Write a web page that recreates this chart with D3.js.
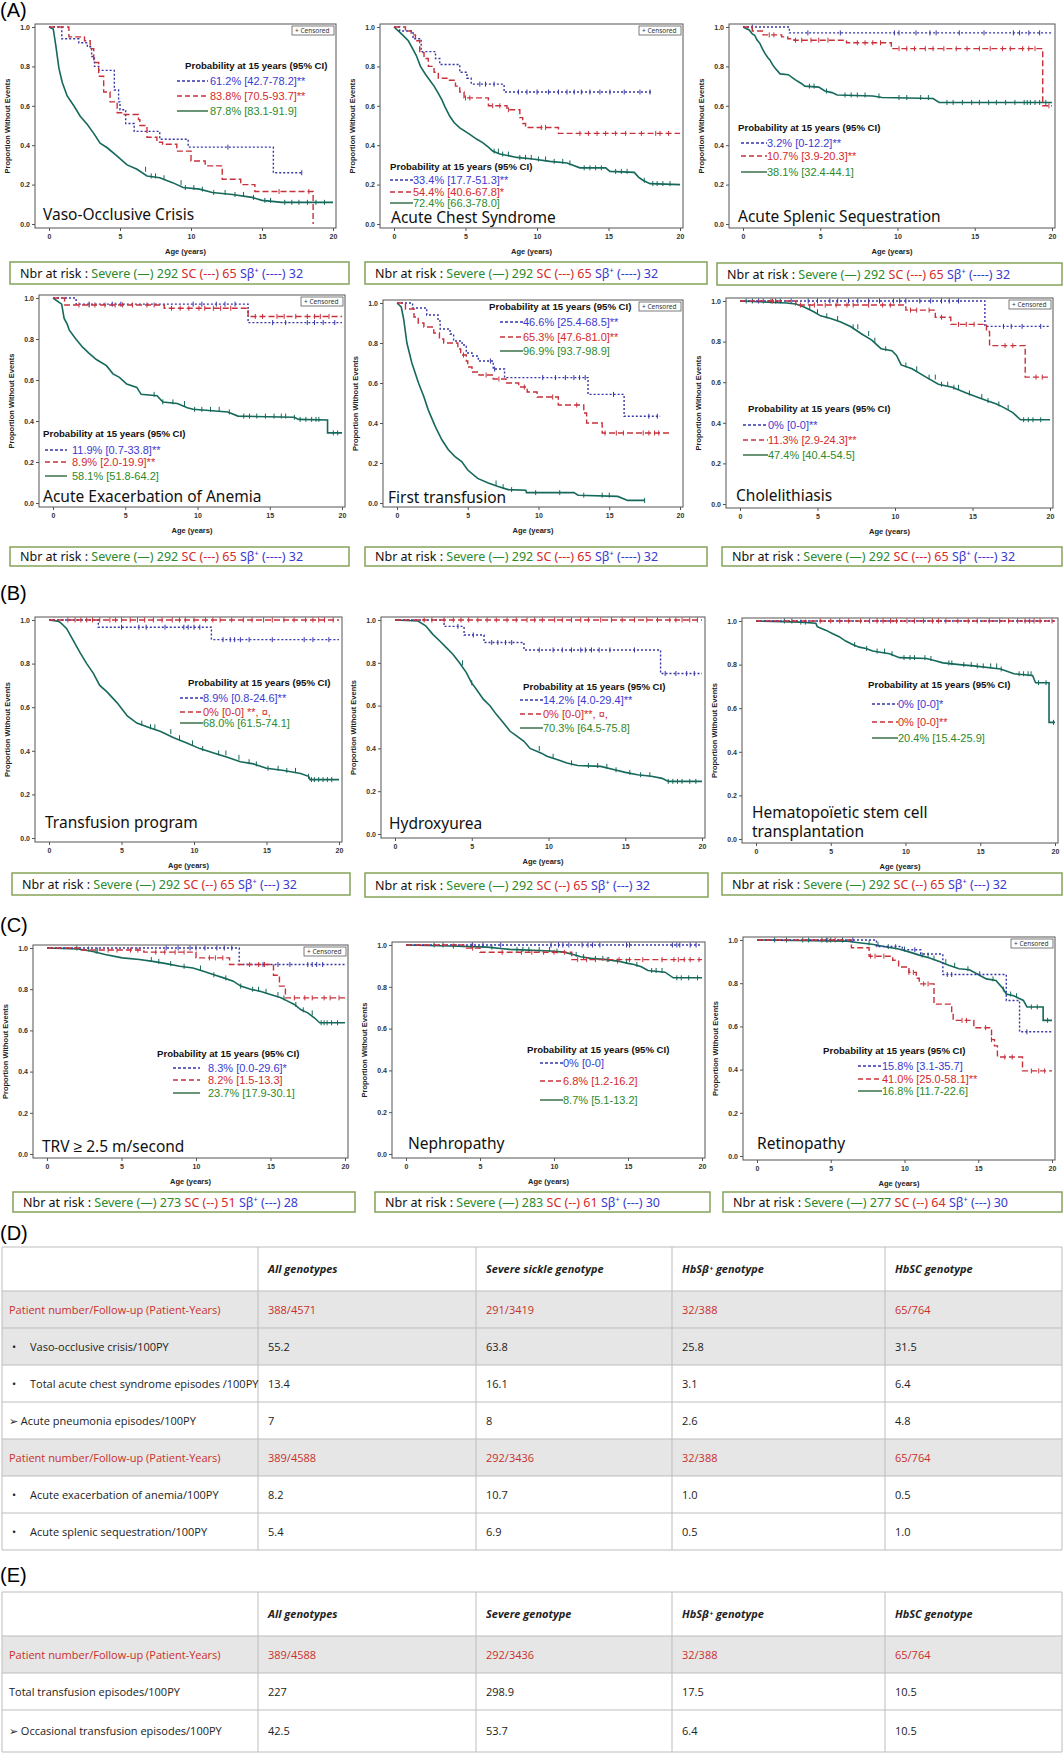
<!DOCTYPE html>
<html>
<head>
<meta charset="utf-8">
<script src="https://cdn.jsdelivr.net/npm/d3@7"></script>
<style>
body { margin: 0; background: #fff; }
svg text { font-family: 'Noto Sans', 'DejaVu Sans', sans-serif; }
.tick text { font-size: 7px; fill: #333; font-weight: bold; font-family: 'Liberation Sans', Arial, sans-serif; }
.tick line { stroke: #555; }
.axisLbl { font-size: 7.5px; font-weight: bold; fill: #222; font-family: 'Liberation Sans', Arial, sans-serif !important; }
.title { font-size: 15.5px; fill: #111; font-family: 'Comic Sans MS', 'Noto Sans', sans-serif; }
.prob { font-size: 9.6px; font-weight: bold; fill: #111; font-family: 'Liberation Sans', Arial, sans-serif !important; }
.legTxt { font-size: 11px; font-family: 'Liberation Sans', Arial, sans-serif !important; }
.risk { font-size: 12.5px; }
.tbl { font-size: 11px; font-family: 'Open Sans', sans-serif !important; }
.letter { font-size: 20px; font-family: 'Liberation Sans', Arial, sans-serif !important; }
</style>
</head>
<body>
<div id="fig"></div>
<script>
'use strict';

/*
Data : Kaplan-Meier curves [age, proportion without event], censored ages
 */

// Vaso-occlusive crisis
const vocSevere = [[0,1],[0.3,0.99],[0.47,0.91],[0.7,0.79],[0.93,0.72],[1.28,0.65],[1.75,0.6],[2.2,0.547],[2.7,0.505],[3.15,0.46],[3.6,0.41],[4.1,0.387],[4.8,0.345],[5.5,0.3],[6.2,0.278],[6.9,0.244],[7.8,0.235],[8.7,0.21],[9.45,0.185],[10.6,0.177],[11.5,0.16],[12.9,0.15],[14.3,0.135],[15.0,0.12],[16.4,0.11],[20,0.11]];
const vocSC = [[0,1],[1.4,0.95],[2.5,0.93],[2.9,0.89],[3.15,0.82],[3.5,0.75],[3.85,0.67],[4.3,0.62],[4.8,0.565],[5.2,0.556],[6.3,0.53],[6.4,0.5],[6.9,0.44],[7.6,0.415],[8.0,0.405],[9.0,0.37],[10.0,0.32],[11.0,0.295],[12.2,0.227],[13.5,0.2],[14.5,0.165],[18.6,0]];
const vocSb = [[0,1],[0.9,0.94],[2.1,0.92],[2.7,0.9],[3.0,0.85],[3.2,0.8],[3.5,0.78],[4.6,0.68],[4.9,0.62],[5.0,0.58],[5.4,0.51],[6.0,0.47],[7.8,0.43],[9.8,0.39],[15.8,0.26],[17.8,0.26]];
const vocSevereCens = [6.8,7.2,7.5,8.1,9.3,9.6,10.2,10.8,11.6,12.4,13.1,13.7,14.4,15.2,15.6,16.6,17.1,17.6,18.2,18.8,19.4];
const vocSCCens = [16.2,18.3];
const vocSbCens = [12.6,17.8];

// Acute chest syndrome
const acsSevere = [[0,1],[0.3,0.98],[0.6,0.96],[1.0,0.93],[1.3,0.89],[1.56,0.855],[1.85,0.8],[2.2,0.76],[2.5,0.73],[2.8,0.7],[3.1,0.663],[3.35,0.63],[3.55,0.597],[3.9,0.547],[4.2,0.515],[4.6,0.488],[5.3,0.455],[5.8,0.43],[6.2,0.413],[6.6,0.39],[6.9,0.37],[7.4,0.355],[8.6,0.338],[9.7,0.33],[10.9,0.318],[12.1,0.31],[13.0,0.285],[14.8,0.285],[15.1,0.267],[16.8,0.262],[17.1,0.238],[17.4,0.222],[17.9,0.205],[20,0.2]];
const acsSC = [[0,1],[0.8,0.98],[1.2,0.96],[1.5,0.93],[1.8,0.87],[2.1,0.84],[2.4,0.8],[2.8,0.77],[3.1,0.74],[3.7,0.73],[4.3,0.7],[4.6,0.67],[4.9,0.64],[6.6,0.6],[7.9,0.58],[8.8,0.54],[9.0,0.51],[9.2,0.49],[11.5,0.46],[20,0.46]];
const acsSb = [[0,1],[0.4,0.98],[1.33,0.94],[1.9,0.875],[2.9,0.84],[3.2,0.81],[4.6,0.77],[5.1,0.74],[5.4,0.71],[7.7,0.67],[18,0.67]];
const acsSevereCens = [7.0,7.3,7.6,8.0,8.8,9.2,9.6,10.1,10.6,11.2,11.8,12.3,13.3,13.7,14.1,14.5,15.5,15.9,16.3,17.5,18.1,18.4,18.8,19.3];
const acsSCCens = [5.0,5.3,6.9,7.4,8.0,10.3,10.6,13.0,13.6,14.2,14.8,15.5,16.2,17.3,18.3,18.6,19.2];
const acsSbCens = [6.0,6.4,7.0,8.7,9.3,10.0,10.8,11.5,12.1,12.6,13.1,13.7,14.4,15.1,16.1,17.2,17.9];

// Acute splenic sequestration
const assSevere = [[0,1],[0.4,0.985],[0.6,0.965],[0.76,0.958],[0.9,0.935],[1.09,0.917],[1.25,0.89],[1.41,0.867],[1.6,0.845],[1.74,0.833],[1.9,0.81],[2.07,0.792],[2.4,0.762],[2.93,0.758],[3.37,0.733],[3.8,0.712],[4.0,0.7],[4.9,0.695],[5.3,0.675],[5.76,0.667],[6.1,0.655],[8.4,0.65],[9.0,0.642],[12.3,0.637],[12.7,0.617],[20,0.617]];
const assSC = [[0,1],[0.6,0.98],[1.3,0.96],[2.5,0.95],[2.9,0.94],[3.3,0.933],[6.7,0.92],[9.6,0.89],[19.4,0.6],[20,0.6]];
const assSb = [[0,1],[3.0,0.97],[20,0.97]];
const assSevereCens = [4.3,4.6,5.4,6.6,7.0,7.4,7.9,8.8,10.1,10.6,11.5,12.0,13.2,13.6,14.2,14.8,15.3,15.9,16.4,17.0,17.6,18.2,18.4,18.6,18.9,19.2,19.6];
const assSCCens = [1.7,2.0,3.4,3.8,4.4,4.9,5.5,7.4,7.9,8.4,8.9,10.1,10.6,11.1,11.8,12.3,13.0,13.8,14.5,15.3,16.0,16.8,17.3,18.1,18.5,18.9,19.8];
const assSbCens = [0.6,4.2,6.3,9.8,10.1,11.2,12.1,12.5,14.0,15.6,17.5,17.9,18.5,19.2];

// Acute exacerbation of anemia
const aeaSevere = [[0,1],[0.6,0.97],[0.77,0.9],[1.0,0.87],[1.12,0.844],[1.58,0.8],[2.05,0.76],[2.5,0.73],[3.0,0.7],[3.7,0.67],[4.15,0.63],[4.6,0.613],[5.1,0.58],[5.8,0.564],[6.1,0.53],[7.2,0.523],[7.6,0.493],[8.6,0.485],[9.3,0.465],[9.7,0.457],[12.1,0.444],[12.8,0.424],[16.7,0.418],[17.0,0.408],[19.0,0.405],[19.0,0.342],[20,0.342]];
const aeaSC = [[0,1],[0.8,0.966],[7.7,0.95],[13.5,0.91],[20,0.91]];
const aeaSb = [[0,1],[1.6,0.97],[13.5,0.88],[20,0.88]];
const aeaSevereCens = [7.0,7.6,8.3,9.1,9.8,10.3,10.9,11.5,12.2,13.2,13.6,14.1,14.7,15.3,15.8,16.1,16.7,17.1,17.5,17.9,18.2,18.4,19.4,19.7];
const aeaSCCens = [1.8,2.5,2.9,3.6,4.3,4.8,5.5,6.5,7.0,8.2,8.8,9.4,10.1,10.5,11.1,11.6,12.3,14.0,14.5,15.5,16.0,16.8,17.6,18.1,18.5,19.1];
const aeaSbCens = [2.5,4.1,4.7,9.7,10.3,11.3,11.9,12.6,15.2,16.1,17.6,18.1,18.7,19.5];

// First transfusion
const ftSevere = [[0,1],[0.3,0.98],[0.47,0.92],[0.7,0.8],[1.05,0.7],[1.52,0.6],[1.88,0.535],[2.2,0.467],[2.7,0.383],[3.17,0.316],[3.63,0.266],[4.1,0.232],[4.57,0.207],[5.0,0.165],[5.7,0.123],[6.45,0.1],[7.15,0.082],[7.85,0.067],[9.1,0.064],[9.15,0.052],[12.5,0.052],[12.8,0.039],[15.6,0.033],[16.3,0.013],[17.5,0.013]];
const ftSC = [[0,1],[0.6,0.97],[1.2,0.93],[1.5,0.9],[1.9,0.88],[2.6,0.85],[3.0,0.82],[3.3,0.8],[4.3,0.77],[4.5,0.74],[4.9,0.71],[5.0,0.68],[5.3,0.655],[5.8,0.64],[6.8,0.62],[7.7,0.6],[8.6,0.58],[9.2,0.555],[9.9,0.53],[11.4,0.49],[13.2,0.45],[13.4,0.4],[14.5,0.35],[19.3,0.35]];
const ftSb = [[0,1],[1.1,0.975],[2.1,0.94],[2.9,0.91],[3.05,0.87],[3.75,0.845],[4.0,0.81],[4.6,0.79],[4.9,0.75],[5.3,0.735],[5.75,0.71],[6.8,0.67],[7.6,0.627],[13.5,0.543],[16.05,0.434],[18.6,0.434]];
const ftSevereCens = [7.0,7.5,8.1,9.8,11.5,13.2,14.5,15.0,17.5];
const ftSCCens = [4.7,6.3,7.2,9.0,11.0,12.7,14.7,15.5,16.0,17.4,17.8,18.2,18.5];
const ftSbCens = [6.6,6.9,10.3,11.2,11.9,12.5,12.9,13.3,15.3,17.8,18.4];

// Cholelithiasis
const choSevere = [[0,1],[3.0,0.99],[3.6,0.985],[4.1,0.972],[4.76,0.947],[5.2,0.927],[5.85,0.914],[6.5,0.897],[7.16,0.873],[7.8,0.84],[8.5,0.807],[9.1,0.765],[9.8,0.755],[10.1,0.732],[10.4,0.685],[11.1,0.666],[12.0,0.625],[12.8,0.59],[13.7,0.575],[14.6,0.547],[15.2,0.53],[15.9,0.51],[16.55,0.493],[17.0,0.476],[17.6,0.45],[18.1,0.415],[20,0.415]];
const choSC = [[0,1],[3.6,0.98],[10.7,0.955],[12.6,0.92],[13.6,0.885],[15.9,0.85],[16.1,0.78],[18.4,0.625],[20,0.625]];
const choSb = [[0,1],[15.8,0.875],[20,0.875]];
const choSevereCens = [0.4,0.8,1.5,2.0,2.6,4.5,5.0,5.6,6.3,7.3,7.6,8.3,8.7,9.4,10.7,11.4,12.2,12.6,13.0,13.4,13.8,14.1,14.8,15.6,16.0,16.7,17.3,18.3,18.6,18.9,19.4];
const choSCCens = [2.1,3.9,4.8,5.5,6.2,6.9,7.3,8.3,9.2,9.7,11.0,11.4,12.2,13.0,14.1,14.6,15.1,17.1,17.6,19.1,19.5];
const choSbCens = [1.2,2.3,3.3,4.4,5.0,5.8,6.3,7.0,7.6,8.3,9.0,9.9,10.3,10.7,11.6,12.3,13.0,13.5,14.1,17.0,17.5,18.2,19.4];

// Transfusion program
const tpSevere = [[0,1],[0.6,0.995],[0.76,0.99],[1.0,0.975],[1.22,0.96],[1.68,0.905],[2.14,0.85],[2.6,0.8],[3.06,0.755],[3.5,0.7],[4.0,0.67],[4.7,0.62],[5.4,0.56],[6.06,0.527],[6.75,0.51],[7.7,0.488],[8.6,0.46],[9.5,0.436],[10.4,0.41],[11.36,0.39],[12.3,0.37],[13.2,0.35],[14.1,0.34],[15.0,0.32],[16.2,0.31],[17.35,0.296],[17.9,0.283],[18.0,0.268],[20,0.268]];
const tpSC = [[0,1],[20,1]];
const tpSb = [[0,1],[3.4,0.967],[11.2,0.91],[20,0.91]];
const tpSevereCens = [6.4,7.0,7.3,8.4,9.0,9.9,10.6,11.7,12.2,13.1,13.8,14.3,15.1,15.8,16.4,17.0,17.9,18.1,18.3,18.6,18.9,19.2,19.5];
const tpSCCens = [1.3,1.8,2.2,2.6,3.0,3.5,4.2,4.6,5.0,5.6,6.1,6.6,7.2,7.8,8.5,9.0,9.4,10.0,10.8,11.3,11.8,12.6,13.4,14.0,14.8,15.4,16.2,16.9,17.7,18.2,18.6,19.0,19.6];
const tpSbCens = [5.0,6.2,6.7,8.0,9.3,9.6,10.0,10.4,12.0,12.5,12.8,13.2,13.8,15.4,17.6,18.2,19.3];

// Hydroxyurea
const huSevere = [[0,1],[1.5,0.995],[2.0,0.973],[2.45,0.934],[2.9,0.903],[3.33,0.872],[3.77,0.84],[4.2,0.8],[4.65,0.754],[4.98,0.707],[5.3,0.676],[5.75,0.63],[6.2,0.598],[6.6,0.559],[7.06,0.52],[7.5,0.48],[7.94,0.457],[8.4,0.433],[8.8,0.4],[9.5,0.379],[9.9,0.363],[10.6,0.347],[11.2,0.332],[11.9,0.32],[13.4,0.316],[14.3,0.3],[15.0,0.288],[15.8,0.277],[16.7,0.27],[17.4,0.26],[17.8,0.246],[20,0.246]];
const huSC = [[0,1],[20,1]];
const huSb = [[0,1],[3.2,0.97],[4.5,0.93],[5.8,0.895],[8.4,0.86],[17.3,0.75],[20,0.75]];
const huSevereCens = [4.4,5.0,9.4,10.3,11.5,12.6,13.2,13.8,14.4,15.3,16.0,16.6,17.8,18.1,18.4,18.7,19.2,19.6];
const huSCCens = [1.9,2.4,3.2,3.8,4.3,4.8,5.4,6.0,6.6,7.3,7.9,8.6,9.1,9.6,10.4,10.9,11.5,12.1,12.6,13.4,14.1,14.8,15.6,16.4,17.1,17.9,18.3,18.7,19.2,19.7];
const huSbCens = [4.1,5.1,6.3,6.7,7.2,7.6,9.4,10.3,10.9,11.5,12.1,12.4,12.8,13.3,14.0,15.6,17.6,18.3,19.0,19.5];

// Hematopoietic stem cell transplantation
const hscSevere = [[0,1],[3.0,0.995],[4.0,0.99],[4.1,0.974],[4.66,0.958],[5.1,0.943],[5.56,0.928],[6.0,0.908],[6.46,0.892],[6.9,0.88],[7.36,0.874],[7.8,0.862],[8.93,0.85],[9.6,0.832],[11.4,0.828],[11.86,0.82],[12.5,0.808],[13.6,0.8],[14.55,0.794],[16.36,0.78],[17.25,0.758],[18.5,0.75],[18.7,0.717],[19.6,0.717],[19.6,0.535],[20,0.535]];
const hscSC = [[0,1],[20,1]];
const hscSb = [[0,1],[20,1]];
const hscSevereCens = [1.9,2.4,3.0,3.3,6.6,7.4,8.1,8.6,9.1,9.9,10.3,10.6,11.3,11.7,12.9,13.1,13.9,14.4,14.8,15.2,15.7,16.1,16.4,17.6,17.9,18.2,18.4,18.9,19.4,19.9];
const hscSCCens = [4.3,5.0,5.6,6.2,7.0,7.6,8.1,8.5,9.0,9.4,10.1,10.6,11.2,11.8,12.2,12.7,13.5,14.2,14.8,15.6,16.3,16.9,17.5,18.0,18.3,18.6,19.0,19.8];
const hscSbCens = [];

// TRV >= 2.5 m/s
const trvSevere = [[0,1],[2.1,0.995],[3.0,0.984],[3.9,0.968],[5.05,0.952],[6.2,0.944],[7.1,0.935],[8.0,0.924],[8.9,0.911],[9.8,0.903],[10.5,0.887],[11.2,0.87],[11.85,0.855],[12.5,0.839],[13.0,0.815],[13.66,0.8],[14.3,0.79],[15.0,0.774],[15.7,0.758],[16.15,0.742],[16.6,0.726],[17.05,0.7],[17.5,0.685],[17.96,0.66],[18.3,0.637],[20,0.637]];
const trvSC = [[0,1],[2.3,0.99],[6.5,0.98],[10.0,0.952],[12.25,0.92],[15.2,0.868],[15.6,0.815],[16.0,0.758],[20,0.758]];
const trvSb = [[0,1],[12.9,0.92],[20,0.92]];
const trvSevereCens = [2.0,2.8,3.3,7.0,7.5,8.3,9.2,10.3,11.2,12.0,13.0,13.8,14.2,14.7,15.5,15.9,16.7,17.2,17.8,18.4,18.6,18.8,19.1,19.5];
const trvSCCens = [3.4,4.1,4.7,5.6,6.1,7.3,7.9,8.6,9.2,10.9,11.3,11.8,13.6,14.2,14.6,16.6,17.3,17.8,18.6,19.0,19.6];
const trvSbCens = [8.0,8.8,9.6,10.0,10.6,11.4,11.9,12.4,14.5,15.5,16.3,17.5,17.8,18.1,18.5];

// Nephropathy
const nepSevere = [[0,1],[3.0,0.995],[5.5,0.99],[6.56,0.982],[7.0,0.979],[9.75,0.971],[10.66,0.966],[11.3,0.955],[11.8,0.944],[12.5,0.936],[13.4,0.931],[14.3,0.923],[15.0,0.912],[15.4,0.907],[15.9,0.896],[16.35,0.878],[17.5,0.87],[18.06,0.843],[20,0.843]];
const nepSC = [[0,1],[3.9,0.985],[5.0,0.965],[11.2,0.93],[20,0.93]];
const nepSb = [[0,1],[20,1]];
const nepSevereCens = [1.9,2.5,3.2,4.4,5.8,7.5,7.9,8.3,9.0,9.7,10.2,11.5,12.0,12.8,13.3,13.7,14.3,14.9,15.6,16.6,16.9,17.3,18.3,18.6,19.1,19.7];
const nepSCCens = [4.5,6.5,7.8,8.5,9.3,10.0,10.7,11.6,12.2,12.8,13.6,14.4,15.1,16.0,17.3,18.1,18.4,18.8,19.2,19.8];
const nepSbCens = [4.5,5.2,6.4,9.8,10.3,10.6,11.0,11.9,12.3,12.6,13.1,14.9,15.1,18.0,18.3,18.5,19.2,19.6];

// Retinopathy
const retSevere = [[0,1],[6.0,0.995],[6.9,0.987],[7.8,0.98],[8.7,0.969],[9.6,0.958],[10.3,0.945],[11.0,0.93],[11.7,0.917],[12.36,0.9],[13.0,0.883],[13.7,0.867],[14.4,0.862],[14.9,0.844],[15.55,0.82],[16.2,0.813],[16.7,0.773],[16.9,0.75],[17.4,0.742],[18.06,0.72],[18.3,0.69],[19.4,0.69],[19.4,0.628],[20,0.628]];
const retSC = [[0,1],[6.4,0.964],[7.6,0.925],[9.2,0.906],[9.6,0.875],[10.3,0.85],[10.8,0.823],[11.0,0.797],[12.0,0.703],[13.2,0.664],[13.3,0.628],[14.7,0.594],[15.9,0.539],[16.1,0.51],[16.3,0.458],[18.0,0.394],[20,0.394]];
const retSb = [[0,1],[8.1,0.97],[9.85,0.955],[11.1,0.935],[12.6,0.84],[16.9,0.72],[17.8,0.575],[20,0.575]];
const retSevereCens = [1.2,2.0,3.1,3.5,4.4,4.7,5.0,5.8,7.6,8.2,8.9,9.4,10.0,11.2,11.6,12.0,12.8,13.4,14.3,15.1,16.0,16.7,17.2,17.6,18.6,19.0,19.7];
const retSCCens = [4.8,5.3,7.7,8.0,8.6,10.3,10.6,11.3,11.6,13.9,14.2,15.5,15.9,16.8,17.3,18.6,19.1,19.5];
const retSbCens = [6.5,10.7,12.9,13.2,18.3];

// Probability at 15 years (95% CI) : Sb, SC, Severe
const probSb = ['61.2% [42.7-78.2]**','33.4% [17.7-51.3]**','3.2% [0-12.2]**','11.9% [0.7-33.8]**','46.6% [25.4-68.5]**','0% [0-0]**','8.9% [0.8-24.6]**','14.2% [4.0-29.4]**','0% [0-0]*','8.3% [0.0-29.6]*','0% [0-0]','15.8% [3.1-35.7]'];
const probSC = ['83.8% [70.5-93.7]**','54.4% [40.6-67.8]*','10.7% [3.9-20.3]**','8.9% [2.0-19.9]**','65.3% [47.6-81.0]**','11.3% [2.9-24.3]**','0% [0-0] **, ¤,','0% [0-0]**, ¤,','0% [0-0]**','8.2% [1.5-13.3]','6.8% [1.2-16.2]','41.0% [25.0-58.1]**'];
const probSevere = ['87.8% [83.1-91.9]','72.4% [66.3-78.0]','38.1% [32.4-44.1]','58.1% [51.8-64.2]','96.9% [93.7-98.9]','47.4% [40.4-54.5]','68.0% [61.5-74.1]','70.3% [64.5-75.8]','20.4% [15.4-25.9]','23.7% [17.9-30.1]','8.7% [5.1-13.2]','16.8% [11.7-22.6]'];

// Numbers at risk
const riskSevere = [292,292,292,292,292,292,292,292,292,273,283,277];
const riskSC = [65,65,65,65,65,65,65,65,65,51,61,64];
const riskSb = [32,32,32,32,32,32,32,32,32,28,30,30];

// Axis ticks
const xTicks = [0,5,10,15,20];
const yTicks = [0,0.2,0.4,0.6,0.8,1.0];

// Table D
const tabDHead = ['All genotypes','Severe sickle genotype','HbSβ⁺ genotype','HbSC genotype'];
const tabDLabels = ['Patient number/Follow-up (Patient-Years)','Vaso-occlusive crisis/100PY','Total acute chest syndrome episodes /100PY','Acute pneumonia episodes/100PY','Patient number/Follow-up (Patient-Years)','Acute exacerbation of anemia/100PY','Acute splenic sequestration/100PY'];
const tabDMarks = ['', '•', '•', '➢', '', '•', '•'];
const tabDAll = ['388/4571','55.2','13.4','7','389/4588','8.2','5.4'];
const tabDSevere = ['291/3419','63.8','16.1','8','292/3436','10.7','6.9'];
const tabDSb = ['32/388','25.8','3.1','2.6','32/388','1.0','0.5'];
const tabDSC = ['65/764','31.5','6.4','4.8','65/764','0.5','1.0'];

// Table E
const tabEHead = ['All genotypes','Severe genotype','HbSβ⁺ genotype','HbSC genotype'];
const tabELabels = ['Patient number/Follow-up (Patient-Years)','Total transfusion episodes/100PY','Occasional transfusion episodes/100PY'];
const tabEMarks = ['', '', '➢'];
const tabEAll = ['389/4588','227','42.5'];
const tabESevere = ['292/3436','298.9','53.7'];
const tabESb = ['32/388','17.5','6.4'];
const tabESC = ['65/764','10.5','10.5'];

/*
Styles
 */
const COL = {
    severe: '#15695b', severeTxt: '#2c8a2c', severeLeg: '#1d5a2c',
    sc: '#c8303a', scTxt: '#d42a2a',
    sb: '#3636a8', sbTxt: '#3a3ad0',
    frame: '#555', risk: '#84a35a', red: '#c9302c'
};

/*
KM panel
 */
class KMPanel {

    constructor(_svg, _cfg, _i) {
        this.svg = _svg;
        this.cfg = _cfg;
        this.i = _i;
        this.init();
    }

    init() {
        const vis = this;
        const [L, T, R, B] = vis.cfg.frame;
        vis.x = d3.scaleLinear().domain([0, 20]).range([L + 14, R - 3]);
        vis.y = d3.scaleLinear().domain([0, 1]).range([B - 4, T + 3]);
        vis.g = vis.svg.append('g').attr('class', 'panel ' + vis.cfg.key);
        vis.render();
    }

    // value of a curve at age t (last point at or before t)
    valueAt(arr, t) {
        let s = arr[0][1];
        arr.forEach(p => { if (p[0] <= t) s = p[1]; });
        return s;
    }

    render() {
        const vis = this;
        const c = vis.cfg;
        const [L, T, R, B] = c.frame;

        // Frame
        vis.g.append('rect')
            .attr('x', L).attr('y', T).attr('width', R - L).attr('height', B - T)
            .attr('fill', '#fff').attr('stroke', COL.frame).attr('stroke-width', 1);

        // Axes
        const gx = vis.g.append('g')
            .attr('transform', `translate(0,${B})`)
            .call(d3.axisBottom(vis.x).tickValues(xTicks).tickSize(3).tickPadding(3));
        gx.select('.domain').remove();
        const gy = vis.g.append('g')
            .attr('transform', `translate(${L},0)`)
            .call(d3.axisLeft(vis.y).tickValues(yTicks).tickFormat(d3.format('.1f')).tickSize(3).tickPadding(2));
        gy.select('.domain').remove();

        vis.g.append('text').attr('class', 'axisLbl')
            .attr('x', (L + R) / 2).attr('y', B + 26)
            .attr('text-anchor', 'middle').text('Age (years)');
        vis.g.append('text').attr('class', 'axisLbl')
            .attr('transform', `translate(${L - 25},${(T + B) / 2}) rotate(-90)`)
            .attr('text-anchor', 'middle').text('Proportion Without Events');

        // Curves : severe (many small steps) drawn as a polyline, the small groups as steps
        const lineSevere = d3.line().x(d => vis.x(d[0])).y(d => vis.y(d[1]));
        const lineStep = d3.line().x(d => vis.x(d[0])).y(d => vis.y(d[1])).curve(d3.curveStepAfter);
        const series = [
            {data: c.severe, cens: c.severeCens, color: COL.severe, dash: null, w: 1.6, maker: lineSevere},
            {data: c.sb, cens: c.sbCens, color: COL.sb, dash: '2,2', w: 1.4, maker: lineStep},
            {data: c.sc, cens: c.scCens, color: COL.sc, dash: '6,3', w: 1.4, maker: lineStep}
        ];
        series.forEach(s => {
            vis.g.append('path')
                .attr('d', s.maker(s.data))
                .attr('fill', 'none')
                .attr('stroke', s.color)
                .attr('stroke-width', s.w)
                .attr('stroke-dasharray', s.dash);
            vis.g.selectAll(null)
                .data(s.cens)
                .join('line')
                .attr('x1', d => vis.x(d)).attr('x2', d => vis.x(d))
                .attr('y1', d => vis.y(vis.valueAt(s.data, d)) - 2.5)
                .attr('y2', d => vis.y(vis.valueAt(s.data, d)) + 2.5)
                .attr('stroke', s.color).attr('stroke-width', 1);
        });

        // Censored legend
        if (c.censBox) {
            const bx = R - 44, by = T + 2;
            vis.g.append('rect').attr('x', bx).attr('y', by).attr('width', 42).attr('height', 9)
                .attr('fill', '#fff').attr('stroke', '#444').attr('stroke-width', 0.7);
            vis.g.append('text').attr('x', bx + 3).attr('y', by + 7)
                .attr('font-size', 6.5).attr('fill', '#333')
                .attr('font-family', 'Liberation Sans, Arial, sans-serif')
                .text('+ Censored');
        }

        // Probability legend
        vis.g.append('text').attr('class', 'prob')
            .attr('x', c.prob[0]).attr('y', c.prob[1])
            .text('Probability at 15 years (95% CI)');
        const legRows = [
            {txt: probSb[vis.i], col: COL.sb, txtCol: COL.sbTxt, dash: '3,2'},
            {txt: probSC[vis.i], col: COL.sc, txtCol: COL.scTxt, dash: '5,3'},
            {txt: probSevere[vis.i], col: COL.severeLeg, txtCol: COL.severeTxt, dash: null}
        ];
        legRows.forEach((r, k) => {
            const yy = c.leg.ys[k];
            vis.g.append('line')
                .attr('x1', c.leg.x1).attr('x2', c.leg.x2)
                .attr('y1', yy - 4).attr('y2', yy - 4)
                .attr('stroke', r.col).attr('stroke-width', 1.3)
                .attr('stroke-dasharray', r.dash);
            vis.g.append('text').attr('class', 'legTxt')
                .attr('x', c.leg.tx).attr('y', yy).attr('fill', r.txtCol)
                .text(r.txt);
        });

        // Title
        c.title.forEach((s, k) => {
            vis.g.append('text').attr('class', 'title')
                .attr('x', c.titleXY[0]).attr('y', c.titleXY[1] + k * 19)
                .text(s);
        });

        // Number at risk box
        const [bx0, by0, bx1, by1] = c.risk;
        vis.g.append('rect')
            .attr('x', bx0).attr('y', by0).attr('width', bx1 - bx0).attr('height', by1 - by0)
            .attr('fill', '#fff').attr('stroke', COL.risk).attr('stroke-width', 1.5);
        const rt = vis.g.append('text').attr('class', 'risk')
            .attr('x', bx0 + 10).attr('y', (by0 + by1) / 2 + 4.5);
        rt.append('tspan').attr('fill', '#111').text('Nbr at risk : ');
        rt.append('tspan').attr('fill', COL.severeTxt).text(`Severe (—) ${riskSevere[vis.i]} `);
        rt.append('tspan').attr('fill', COL.scTxt).text(`SC (${c.longDash ? '---' : '--'}) ${riskSC[vis.i]}  `);
        rt.append('tspan').attr('fill', COL.sbTxt).text(`Sβ⁺ (${c.longDash ? '----' : '---'}) ${riskSb[vis.i]}`);
    }
}

/*
Tables
 */
function drawTable(svg, top, heights, colX, head, labels, marks, cols, redRows, shaded) {
    const g = svg.append('g');
    const rowsY = [top];
    heights.forEach(h => rowsY.push(rowsY[rowsY.length - 1] + h));
    const W = colX[colX.length - 1];

    // Backgrounds
    shaded.forEach(r => {
        g.append('rect').attr('x', colX[0]).attr('y', rowsY[r + 1])
            .attr('width', W - colX[0]).attr('height', heights[r + 1])
            .attr('fill', '#e6e6e6');
    });

    // Grid
    rowsY.forEach(yy => g.append('line').attr('x1', colX[0]).attr('x2', W)
        .attr('y1', yy).attr('y2', yy).attr('stroke', '#bdbdbd'));
    colX.forEach(xx => g.append('line').attr('x1', xx).attr('x2', xx)
        .attr('y1', top).attr('y2', rowsY[rowsY.length - 1]).attr('stroke', '#bdbdbd'));

    // Header
    head.forEach((h, k) => {
        g.append('text').attr('class', 'tbl')
            .attr('x', colX[k + 1] + 10).attr('y', top + heights[0] / 2 + 4)
            .attr('font-weight', 'bold').attr('font-style', 'italic').attr('fill', '#222')
            .text(h);
    });

    // Body
    labels.forEach((lab, r) => {
        const yy = rowsY[r + 1] + heights[r + 1] / 2 + 4;
        const red = redRows.includes(r);
        const fill = red ? COL.red : '#222';
        if (marks[r] === '•') {
            g.append('text').attr('class', 'tbl').attr('x', colX[0] + 10).attr('y', yy).attr('fill', fill).text('•');
            g.append('text').attr('class', 'tbl').attr('x', colX[0] + 28).attr('y', yy).attr('fill', fill).text(lab);
        } else if (marks[r] === '➢') {
            g.append('text').attr('class', 'tbl').attr('x', colX[0] + 7).attr('y', yy).attr('fill', fill).text('➢ ' + lab);
        } else {
            g.append('text').attr('class', 'tbl').attr('x', colX[0] + 7).attr('y', yy).attr('fill', fill).text(lab);
        }
        cols.forEach((col, k) => {
            g.append('text').attr('class', 'tbl')
                .attr('x', colX[k + 1] + 10).attr('y', yy).attr('fill', fill)
                .text(col[r]);
        });
    });
}

/*
Build
 */
const W = 1064, H = 1756;
const svg = d3.select('#fig').append('svg').attr('width', W).attr('height', H)
    .style('display', 'block');
svg.append('rect').attr('width', W).attr('height', H).attr('fill', '#fff');

const layouts = [
    {key: 'voc', frame: [35, 24, 336, 228], title: ['Vaso-Occlusive Crisis'], titleXY: [43, 220], prob: [185, 69], leg: {x1: 177, x2: 208, tx: 210, ys: [85, 100, 115]}, censBox: true, risk: [10, 262, 349, 284], longDash: true},
    {key: 'acs', frame: [380, 24, 683, 228], title: ['Acute Chest Syndrome'], titleXY: [391, 223], prob: [390, 170], leg: {x1: 390, x2: 413, tx: 413, ys: [184, 196, 207]}, censBox: true, risk: [365, 262, 707, 284], longDash: true},
    {key: 'ass', frame: [729, 24, 1055, 228], title: ['Acute Splenic Sequestration'], titleXY: [738, 222], prob: [738, 131], leg: {x1: 741, x2: 767, tx: 767, ys: [147, 160, 176]}, censBox: false, risk: [717, 263, 1062, 285], longDash: true},
    {key: 'aea', frame: [39, 295, 345, 507], title: ['Acute Exacerbation of Anemia'], titleXY: [43, 502], prob: [43, 437], leg: {x1: 45, x2: 67, tx: 72, ys: [454, 466, 480]}, censBox: true, risk: [10, 547, 349, 566], longDash: true},
    {key: 'ft', frame: [383, 300, 683, 507], title: ['First transfusion'], titleXY: [388, 503], prob: [489, 310], leg: {x1: 500, x2: 523, tx: 523, ys: [326, 341, 355]}, censBox: true, risk: [365, 547, 707, 566], longDash: true},
    {key: 'cho', frame: [726, 298, 1053, 508], title: ['Cholelithiasis'], titleXY: [736, 501], prob: [748, 412], leg: {x1: 743, x2: 768, tx: 768, ys: [429, 444, 459]}, censBox: true, risk: [722, 547, 1062, 566], longDash: true},
    {key: 'tp', frame: [35, 617, 342, 842], title: ['Transfusion program'], titleXY: [45, 828], prob: [188, 686], leg: {x1: 180, x2: 203, tx: 203, ys: [702, 716, 727]}, censBox: false, risk: [12, 873, 350, 895], longDash: false},
    {key: 'hu', frame: [381, 617, 705, 838], title: ['Hydroxyurea'], titleXY: [389, 829], prob: [523, 690], leg: {x1: 520, x2: 543, tx: 543, ys: [704, 718, 732]}, censBox: false, risk: [365, 873, 708, 897], longDash: false},
    {key: 'hsc', frame: [742, 618, 1058, 843], title: ['Hematopoïetic stem cell', 'transplantation'], titleXY: [752, 818], prob: [868, 688], leg: {x1: 872, x2: 898, tx: 898, ys: [708, 726, 742]}, censBox: false, risk: [722, 873, 1062, 895], longDash: false},
    {key: 'trv', frame: [33, 945, 348, 1158], title: ['TRV ≥ 2.5 m/second'], titleXY: [42, 1152], prob: [157, 1057], leg: {x1: 173, x2: 200, tx: 208, ys: [1072, 1084, 1097]}, censBox: true, risk: [13, 1192, 355, 1212], longDash: false},
    {key: 'nep', frame: [392, 942, 705, 1158], title: ['Nephropathy'], titleXY: [408, 1149], prob: [527, 1053], leg: {x1: 540, x2: 563, tx: 563, ys: [1067, 1085, 1104]}, censBox: false, risk: [375, 1192, 710, 1212], longDash: false},
    {key: 'ret', frame: [743, 937, 1055, 1160], title: ['Retinopathy'], titleXY: [757, 1149], prob: [823, 1054], leg: {x1: 858, x2: 882, tx: 882, ys: [1070, 1083, 1095]}, censBox: true, risk: [723, 1192, 1062, 1212], longDash: false}
];

const seriesByKey = {
    voc: [vocSevere, vocSC, vocSb, vocSevereCens, vocSCCens, vocSbCens],
    acs: [acsSevere, acsSC, acsSb, acsSevereCens, acsSCCens, acsSbCens],
    ass: [assSevere, assSC, assSb, assSevereCens, assSCCens, assSbCens],
    aea: [aeaSevere, aeaSC, aeaSb, aeaSevereCens, aeaSCCens, aeaSbCens],
    ft: [ftSevere, ftSC, ftSb, ftSevereCens, ftSCCens, ftSbCens],
    cho: [choSevere, choSC, choSb, choSevereCens, choSCCens, choSbCens],
    tp: [tpSevere, tpSC, tpSb, tpSevereCens, tpSCCens, tpSbCens],
    hu: [huSevere, huSC, huSb, huSevereCens, huSCCens, huSbCens],
    hsc: [hscSevere, hscSC, hscSb, hscSevereCens, hscSCCens, hscSbCens],
    trv: [trvSevere, trvSC, trvSb, trvSevereCens, trvSCCens, trvSbCens],
    nep: [nepSevere, nepSC, nepSb, nepSevereCens, nepSCCens, nepSbCens],
    ret: [retSevere, retSC, retSb, retSevereCens, retSCCens, retSbCens]
};

// Panels
layouts.forEach((cfg, i) => {
    const s = seriesByKey[cfg.key];
    Object.assign(cfg, {severe: s[0], sc: s[1], sb: s[2], severeCens: s[3], scCens: s[4], sbCens: s[5]});
    new KMPanel(svg, cfg, i);
});

// Section letters
[['(A)', 17], ['(B)', 600], ['(C)', 932], ['(D)', 1240], ['(E)', 1582]].forEach(d => {
    svg.append('text').attr('class', 'letter').attr('x', 0).attr('y', d[1]).text(d[0]);
});

// Tables
const colX = [2, 258, 476, 672, 885, 1062];
drawTable(svg, 1247, [44, 37, 37, 37, 37, 37, 37, 37], colX, tabDHead, tabDLabels, tabDMarks,
    [tabDAll, tabDSevere, tabDSb, tabDSC], [0, 4], [0, 1, 4]);
drawTable(svg, 1592, [44, 37, 37, 42], colX, tabEHead, tabELabels, tabEMarks,
    [tabEAll, tabESevere, tabESb, tabESC], [0], [0]);
</script>
</body>
</html>
